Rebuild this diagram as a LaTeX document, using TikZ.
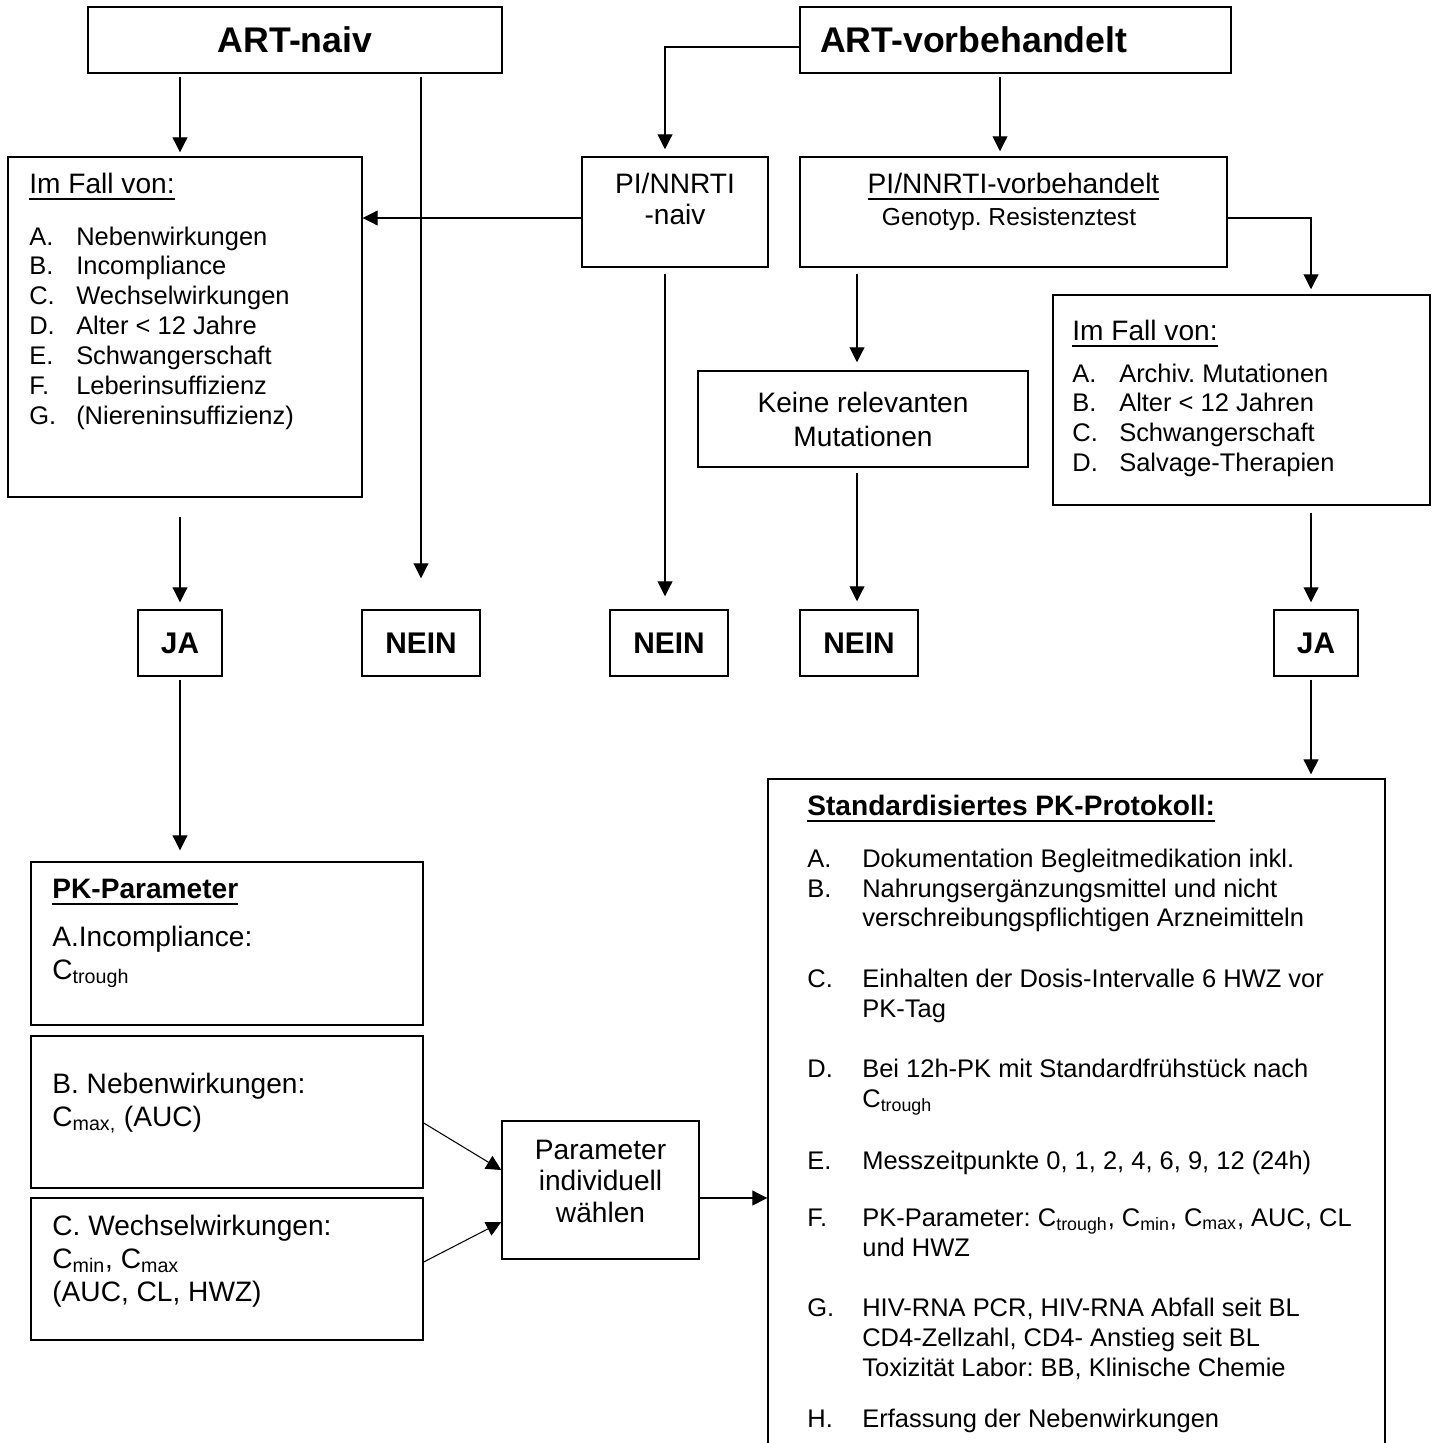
\documentclass[tikz,border=0pt]{standalone}
\usepackage{fontspec}
\setmainfont{Liberation Sans}
\usetikzlibrary{arrows.meta}
\frenchspacing

% underline with a heavier rule
\newcommand{\ulbox}[1]{\setbox0=\hbox{#1}\rlap{\vrule height -2.6pt depth 3.9pt width \wd0}\box0}

\begin{document}
\begin{tikzpicture}[x=0.02cm,y=-0.02cm,
    box/.style={draw,line width=0.85pt,inner sep=0pt},
    arr/.style={line width=0.6pt,-{Triangle[length=8.5pt,width=8.5pt]}},
    txt/.style={inner sep=0pt},
    ftitle/.style={font=\fontsize{20.3pt}{24pt}\selectfont\bfseries},
    fdec/.style={font=\fontsize{17pt}{20pt}\selectfont\bfseries},
    fmid/.style={font=\fontsize{16pt}{18.2pt}\selectfont},
    flist/.style={font=\fontsize{14.5pt}{17.07pt}\selectfont}]

  \useasboundingbox (0,0) rectangle (1431,1443);
  \clip (0,0) rectangle (1431,1443);

  % boxes
  \node[box,ftitle,minimum width=8.28cm,minimum height=1.32cm] (artnaiv) at (295,40) {ART-naiv};
  \node[box,ftitle,minimum height=1.32cm,text width=7.82cm,inner xsep=0.4cm,align=left] (artvor) at (1015.5,40) {ART-vorbehandelt};
  \node[box,minimum width=7.08cm,minimum height=6.8cm] (falll) at (185,327) {};
  \node[box,minimum width=3.72cm,minimum height=2.2cm] (pinaiv) at (675,212) {};
  \node[box,minimum width=8.54cm,minimum height=2.2cm] (pivor) at (1013.5,212) {};
  \node[box,minimum width=7.54cm,minimum height=4.2cm] (fallr) at (1241.5,400) {};
  \node[box,font=\fontsize{16pt}{19.3pt}\selectfont,minimum width=6.6cm,minimum height=1.92cm,align=center] (keine) at (863,419) {Keine relevanten\\Mutationen};
  \node[box,fdec,minimum width=1.68cm,minimum height=1.32cm] (jal) at (180,643) {JA};
  \node[box,fdec,minimum width=2.36cm,minimum height=1.32cm] (nein1) at (421,643) {NEIN};
  \node[box,fdec,minimum width=2.36cm,minimum height=1.32cm] (nein2) at (669,643) {NEIN};
  \node[box,fdec,minimum width=2.36cm,minimum height=1.32cm] (nein3) at (859,643) {NEIN};
  \node[box,fdec,minimum width=1.68cm,minimum height=1.32cm] (jar) at (1316,643) {JA};
  \node[box,minimum width=7.84cm,minimum height=3.26cm] (pka) at (227,943.5) {};
  \node[box,minimum width=7.84cm,minimum height=3.04cm] (pkb) at (227,1112) {};
  \node[box,minimum width=7.84cm,minimum height=2.84cm] (pkc) at (227,1269) {};
  \node[box,minimum width=3.94cm,minimum height=2.76cm] (param) at (600.5,1190) {};
  \node[box,minimum width=12.34cm,minimum height=13.82cm] (std) at (1076.5,1124.5) {};

  % texts
  \node[txt,fmid,anchor=base] (pinaivT) at (675,193) {\begin{tabular}[t]{@{}c@{}}PI/NNRTI\\-naiv\end{tabular}};
  \node[txt,fmid,anchor=base] (pivorT) at (1013.5,193) {\ulbox{PI/NNRTI-vorbehandelt}};
  \node[txt,font=\fontsize{14pt}{17pt}\selectfont,anchor=base] (genoT) at (1009,225) {Genotyp. Resistenztest};
  \node[txt,fmid,anchor=base west] (falllH) at (29,193) {\ulbox{Im Fall von:}};
  \node[txt,flist,anchor=base west] (falllL) at (29,245) {\begin{tabular}[t]{@{}p{26.7pt}@{}l@{}}
    A. & Nebenwirkungen\\
    B. & Incompliance\\
    C. & Wechselwirkungen\\
    D. & Alter < 12 Jahre\\
    E. & Schwangerschaft\\
    F. & Leberinsuffizienz\\
    G. & (Niereninsuffizienz)
  \end{tabular}};
  \node[txt,fmid,anchor=base west] (fallrH) at (1072,340) {\ulbox{Im Fall von:}};
  \node[txt,flist,anchor=base west] (fallrL) at (1072,382) {\begin{tabular}[t]{@{}p{26.7pt}@{}l@{}}
    A. & Archiv. Mutationen\\
    B. & Alter < 12 Jahren\\
    C. & Schwangerschaft\\
    D. & Salvage-Therapien
  \end{tabular}};
  \node[txt,fmid,anchor=base west] (pkaH) at (52,898) {\bfseries\ulbox{PK-Parameter}};
  \node[txt,font=\fontsize{16pt}{18.8pt}\selectfont,anchor=base west] (pkaT) at (52,946) {\begin{tabular}[t]{@{}l@{}}A.Incompliance:\\C\textsubscript{trough}\end{tabular}};
  \node[txt,font=\fontsize{16pt}{18.8pt}\selectfont,anchor=base west] (pkbT) at (52,1093) {\begin{tabular}[t]{@{}l@{}}B. Nebenwirkungen:\\C\textsubscript{max,} (AUC)\end{tabular}};
  \node[txt,font=\fontsize{16pt}{18.8pt}\selectfont,anchor=base west] (pkcT) at (52,1235) {\begin{tabular}[t]{@{}l@{}}C. Wechselwirkungen:\\C\textsubscript{min}, C\textsubscript{max}\\(AUC, CL, HWZ)\end{tabular}};
  \node[txt,fmid,anchor=base] (paramT) at (600.5,1159) {\begin{tabular}[t]{@{}c@{}}Parameter\\individuell\\wählen\end{tabular}};
  \node[txt,fmid,anchor=base west] (stdH) at (807,815) {\bfseries\ulbox{Standardisiertes PK-Protokoll:}};
  \node[txt,flist,anchor=base west] (stdL) at (807,867) {\begin{tabular}[t]{@{}p{31.3pt}@{}l@{}}
    A. & Dokumentation Begleitmedikation inkl.\\
    B. & Nahrungsergänzungsmittel und nicht\\
       & verschreibungspflichtigen Arzneimitteln\\[17.1pt]
    C. & Einhalten der Dosis-Intervalle 6 HWZ vor\\
       & PK-Tag\\[17.1pt]
    D. & Bei 12h-PK mit Standardfrühstück nach\\
       & C\textsubscript{trough}\\[18.2pt]
    E. & Messzeitpunkte 0, 1, 2, 4, 6, 9, 12 (24h)\\[15.4pt]
    F. & PK-Parameter: C\textsubscript{trough}, C\textsubscript{min}, C\textsubscript{max}, AUC, CL\\
       & und HWZ\\[17.6pt]
    G. & HIV-RNA PCR, HIV-RNA Abfall seit BL\\
       & CD4-Zellzahl, CD4- Anstieg seit BL\\
       & Toxizität Labor: BB, Klinische Chemie\\[11.9pt]
    H. & Erfassung der Nebenwirkungen
  \end{tabular}};

  % connectors
  \coordinate (rcol) at (1311,0);
  \draw[arr,shorten <=0.06cm,shorten >=0.08cm] (jal |- artnaiv.south) -- (jal |- falll.north);
  \draw[arr,shorten <=0.06cm,shorten >=0.62cm] (nein1 |- artnaiv.south) -- (nein1.north);
  \draw[arr,shorten >=0.14cm] ([yshift=-0.14cm]artvor.west) -| ([xshift=-0.2cm]pinaiv.north);
  \draw[arr,shorten <=0.06cm,shorten >=0.1cm] ([xshift=-0.27cm]pivor.north |- artvor.south) -- ([xshift=-0.27cm]pivor.north);
  \draw[arr] ([yshift=-0.12cm]pinaiv.west) -- ([yshift=-0.12cm]pinaiv.west -| falll.east);
  \draw[arr,shorten >=0.1cm] ([yshift=-0.12cm]pivor.east) -| (rcol |- fallr.north);
  \draw[arr,shorten <=0.12cm,shorten >=0.26cm] ([xshift=-0.2cm]pinaiv.south) -- ([xshift=-0.2cm]pinaiv.south |- nein2.north);
  \draw[arr,shorten <=0.12cm,shorten >=0.16cm] ([xshift=-0.12cm]keine.north |- pivor.south) -- ([xshift=-0.12cm]keine.north);
  \draw[arr,shorten <=0.1cm,shorten >=0.16cm] ([xshift=-0.12cm]keine.south) -- ([xshift=-0.12cm]keine.south |- nein3.north);
  \draw[arr,shorten <=0.38cm,shorten >=0.14cm] (jal |- falll.south) -- (jal.north);
  \draw[arr,shorten <=0.14cm,shorten >=0.14cm] (rcol |- fallr.south) -- (rcol |- jar.north);
  \draw[arr,shorten <=0.06cm,shorten >=0.22cm] (jal.south) -- (jal |- pka.north);
  \draw[arr,shorten <=0.06cm,shorten >=0.08cm] (rcol |- jar.south) -- (rcol |- std.north);
  \draw[arr] ([yshift=-0.22cm]pkb.east) -- ([yshift=0.4cm]param.west);
  \draw[arr] ([yshift=0.14cm]pkc.east) -- ([yshift=-0.64cm]param.west);
  \draw[arr] ([yshift=-0.16cm]param.east) -- ([yshift=-0.16cm]param.east -| std.west);
\end{tikzpicture}
\end{document}
